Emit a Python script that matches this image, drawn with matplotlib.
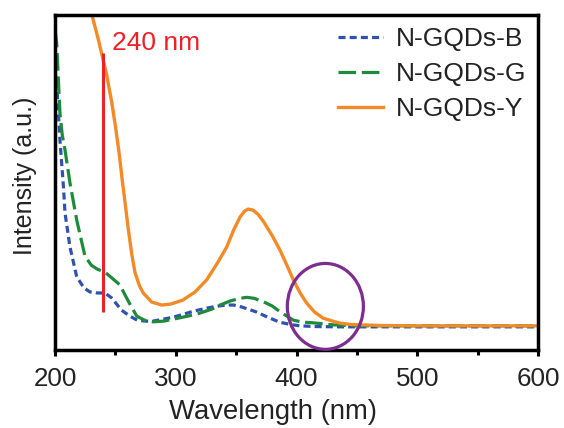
import matplotlib
matplotlib.use("Agg")
import matplotlib.pyplot as plt
from matplotlib.patches import Ellipse

plt.rcParams['font.family'] = ['Liberation Sans', 'DejaVu Sans']

# Absorbance-style spectra (arbitrary intensity units)
wl_b = [200, 201.4, 202.7, 204.1, 205.5, 207, 208.3, 212.4, 218, 224, 229, 235,
        241.4, 247, 255, 262, 268, 275, 281, 290, 298, 304, 315, 326, 335, 342,
        348, 353, 360, 367, 376, 386, 395, 403, 415, 436, 600]
int_b = [0.835, 0.790, 0.715, 0.626, 0.557, 0.486, 0.408, 0.307, 0.218, 0.185,
         0.173, 0.170, 0.170, 0.155, 0.119, 0.101, 0.089, 0.086, 0.086, 0.092,
         0.098, 0.104, 0.116, 0.125, 0.131, 0.134, 0.134, 0.130, 0.122, 0.113,
         0.098, 0.083, 0.076, 0.072, 0.070, 0.069, 0.069]

wl_g = [200, 201.4, 202.7, 204.1, 206, 208.3, 212.4, 218, 224.8, 230, 235, 241.4,
        247, 253.8, 258, 262, 267.7, 274, 281.4, 290, 298, 310, 320, 330, 336.6,
        345, 353.2, 358.8, 365, 372.5, 380, 386.3, 397.4, 405, 413.9, 430, 450, 600]
int_g = [0.954, 0.915, 0.814, 0.706, 0.641, 0.596, 0.498, 0.387, 0.280, 0.253,
         0.241, 0.232, 0.215, 0.194, 0.164, 0.137, 0.101, 0.089, 0.084, 0.086,
         0.092, 0.101, 0.110, 0.122, 0.134, 0.146, 0.154, 0.157, 0.154, 0.144,
         0.131, 0.114, 0.089, 0.083, 0.081, 0.075, 0.072, 0.072]

wl_y = [230, 236, 242.8, 247, 250, 253, 255.5, 258, 260.7, 263.5, 266.3, 270,
        273.1, 280, 288.4, 296, 306, 316, 325.6, 335, 342.2, 348, 353.2, 357, 360,
        364, 368, 372.5, 380, 386.3, 392, 397.4, 403, 408.4, 415, 422, 430, 436,
        445, 453, 470, 500, 600]
int_y = [1.007, 0.924, 0.820, 0.738, 0.668, 0.590, 0.512, 0.440, 0.360, 0.287,
         0.230, 0.191, 0.170, 0.143, 0.134, 0.137, 0.149, 0.173, 0.209, 0.262,
         0.307, 0.358, 0.396, 0.414, 0.420, 0.417, 0.405, 0.384, 0.340, 0.298,
         0.253, 0.209, 0.170, 0.140, 0.113, 0.095, 0.086, 0.080, 0.076, 0.075,
         0.073, 0.072, 0.072]

labels = ['N-GQDs-B', 'N-GQDs-G', 'N-GQDs-Y']
x_ticks = [200, 300, 400, 500, 600]
marker_wl = 240
marker_span = (0.113, 0.885)
circle_center = (423.9, 0.130)
circle_size = (63.0, 0.256)

W, H = 564, 428
fig = plt.figure(figsize=(W / 100, H / 100), dpi=100)
ax = fig.add_axes([55 / W, (H - 350) / H, 483 / W, 335.5 / H])

ax.plot(wl_b, int_b, color='#2f52b0', lw=2.3, dashes=(2.2, 1.3), label=labels[0])
ax.plot(wl_g, int_g, color='#1f8a3b', lw=2.3, dashes=(5.5, 1.8), label=labels[1])
ax.plot(wl_y, int_y, color='#f28a28', lw=2.4, label=labels[2])

ax.vlines(marker_wl, *marker_span, color='#ec2027', lw=2.2)
ax.text(247, 0.894, f'{marker_wl} nm', color='#ec2027', fontsize=19,
        va='baseline', ha='left')

ax.add_patch(Ellipse(circle_center, *circle_size, fill=False,
                     edgecolor='#7d2d8f', lw=2.3, clip_on=False, zorder=5))

ax.set_xlim(200, 600)
ax.set_ylim(0, 1)
ax.set_xticks(x_ticks)
ax.set_xticks(range(250, 600, 100), minor=True)
ax.set_yticks([])
ax.tick_params(axis='x', which='major', direction='out', length=4.5, width=2.2,
               labelsize=18.7, labelcolor='#222222', pad=7.5)
ax.tick_params(axis='x', which='minor', direction='out', length=3.5, width=2.2)
for sp in ax.spines.values():
    sp.set_linewidth(2.5)
    sp.set_color('black')

ax.set_xlabel('Wavelength (nm)', fontsize=19.8, color='#222222', va='center')
ax.xaxis.set_label_coords(0.451, -0.184)
ax.set_ylabel('Intensity (a.u.)', fontsize=18, color='#222222', va='center')
ax.yaxis.set_label_coords(-0.063, 0.519)

ax.legend(loc='upper left', bbox_to_anchor=(338 / W, 1 - 27 / H),
          bbox_transform=fig.transFigure, frameon=False, fontsize=19,
          borderpad=0, borderaxespad=0, handlelength=1.7, handletextpad=0.5,
          labelspacing=0.42, labelcolor='#222222')

fig.savefig('out.png', dpi=100)
